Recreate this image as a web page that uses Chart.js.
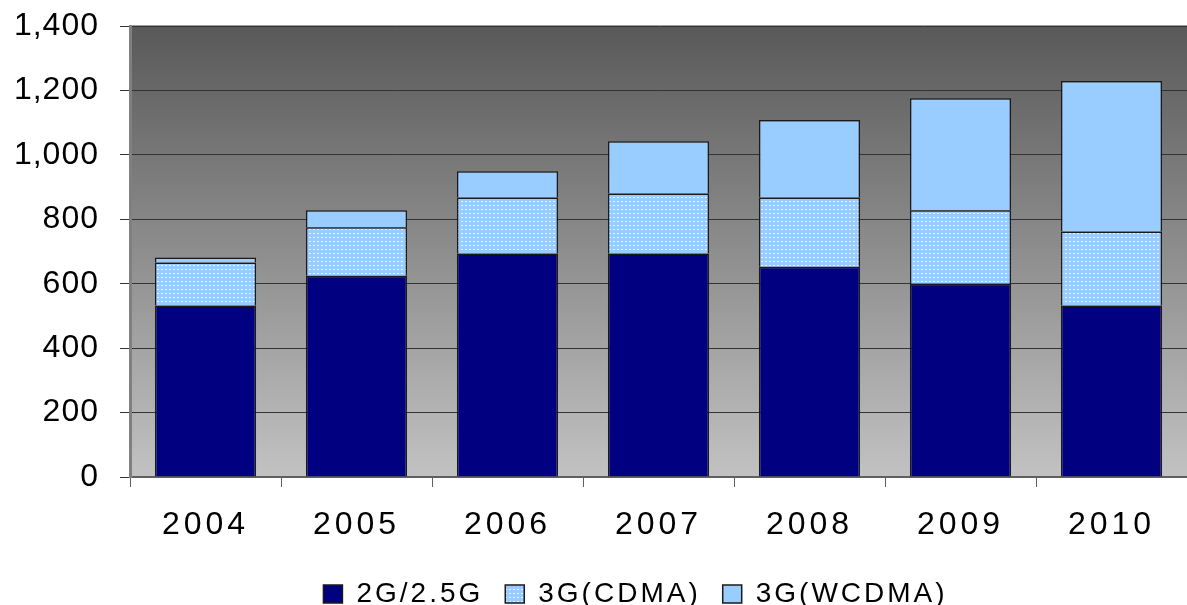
<!DOCTYPE html>
<html>
<head>
<meta charset="utf-8">
<script src="https://cdn.jsdelivr.net/npm/chart.js@4"></script>
<style>
  html, body { margin: 0; padding: 0; background: #fff; }
  #wrap { width: 1187px; height: 605px; }
</style>
</head>
<body>
<div id="wrap"><canvas id="chart"></canvas></div>
<script>
const years = ['2004', '2005', '2006', '2007', '2008', '2009', '2010'];
const g2 = [532, 625, 694, 694, 653, 600, 532];
const cdma = [134, 150, 174, 186, 215, 228, 230];
const wcdma = [15, 53, 81, 162, 240, 348, 467];
const yTicks = [0, 200, 400, 600, 800, 1000, 1200, 1400];

function dotPattern() {
    const c = document.createElement('canvas');
    c.width = 4; c.height = 4;
    const x = c.getContext('2d');
    x.fillStyle = '#99ccff';
    x.fillRect(0, 0, 4, 4);
    x.fillStyle = '#e6f3ff';
    x.fillRect(1, 1, 2, 1);
    return x.createPattern(c, 'repeat');
}

// the old office chart has loose letter spacing, different per text group
function spaceLabels(scale, sp) {
    if (scale._spaced) return;
    scale._spaced = true;
    const draw = scale.drawLabels;
    scale.drawLabels = function(area) {
        const c = this.ctx;
        const old = c.letterSpacing;
        c.letterSpacing = sp;
        draw.call(this, area);
        c.letterSpacing = old;
    };
}

const plotBackground = {
    id: 'plotBackground',
    beforeLayout(chart) {
        chart.ctx.letterSpacing = '3px';
    },
    afterLayout(chart) {
        spaceLabels(chart.scales.x, '4px');
        spaceLabels(chart.scales.y, '1px');
        // legend sits a bit right of the canvas centre
        chart.legend.left += 42;
        chart.legend.right += 42;
    },
    beforeDraw(chart) {
        const { ctx, chartArea: a } = chart;
        ctx.letterSpacing = '3px';
        const grad = ctx.createLinearGradient(0, a.top, 0, a.bottom);
        grad.addColorStop(0, '#595959');
        grad.addColorStop(1, '#c2c2c2');
        ctx.save();
        ctx.fillStyle = grad;
        ctx.fillRect(a.left, a.top, a.right - a.left, a.bottom - a.top);
        ctx.strokeStyle = '#a0a0a0';
        ctx.lineWidth = 2;
        ctx.beginPath();
        ctx.moveTo(a.left, a.top);
        ctx.lineTo(a.right, a.top);
        ctx.stroke();
        ctx.restore();
    }
};

const font = 'Liberation Sans';
const ctx = document.getElementById('chart');
new Chart(ctx, {
    type: 'bar',
    data: {
        labels: years,
        datasets: [
            { label: '2G/2.5G', data: g2, backgroundColor: '#000080' },
            { label: '3G(CDMA)', data: cdma, backgroundColor: dotPattern() },
            { label: '3G(WCDMA)', data: wcdma, backgroundColor: '#99ccff' }
        ].map(d => Object.assign(d, {
            borderColor: '#1a1a1a',
            borderWidth: 1.5,
            categoryPercentage: 1,
            barPercentage: 0.67
        }))
    },
    options: {
        responsive: true,
        maintainAspectRatio: false,
        animation: false,
        layout: { padding: { left: 0, top: 26, right: 0, bottom: -13 } },
        plugins: {
            tooltip: { enabled: false },
            legend: {
                position: 'bottom',
                labels: {
                    color: '#000',
                    font: { family: font, size: 28 },
                    boxWidth: 19,
                    boxHeight: 18,
                    padding: 22
                }
            }
        },
        scales: {
            x: {
                stacked: true,
                afterFit(axis) { axis.height = 81; },
                grid: { offset: true, drawOnChartArea: false, tickLength: 10, color: '#606060', lineWidth: 1 },
                border: { color: '#606060', width: 2 },
                ticks: { color: '#000', font: { family: font, size: 32 }, padding: 19, maxRotation: 0 }
            },
            y: {
                stacked: true,
                min: 0,
                max: 1400,
                afterBuildTicks(axis) { axis.ticks = yTicks.map(v => ({ value: v })); },
                afterFit(axis) { axis.width = 130; axis.paddingTop = 0; axis.paddingBottom = 0; },
                grid: { color: '#333333', lineWidth: 1, tickLength: 10 },
                border: { color: '#808080', width: 3 },
                ticks: { color: '#000', font: { family: font, size: 32 }, padding: 21 }
            }
        }
    },
    plugins: [plotBackground]
});
</script>
</body>
</html>
